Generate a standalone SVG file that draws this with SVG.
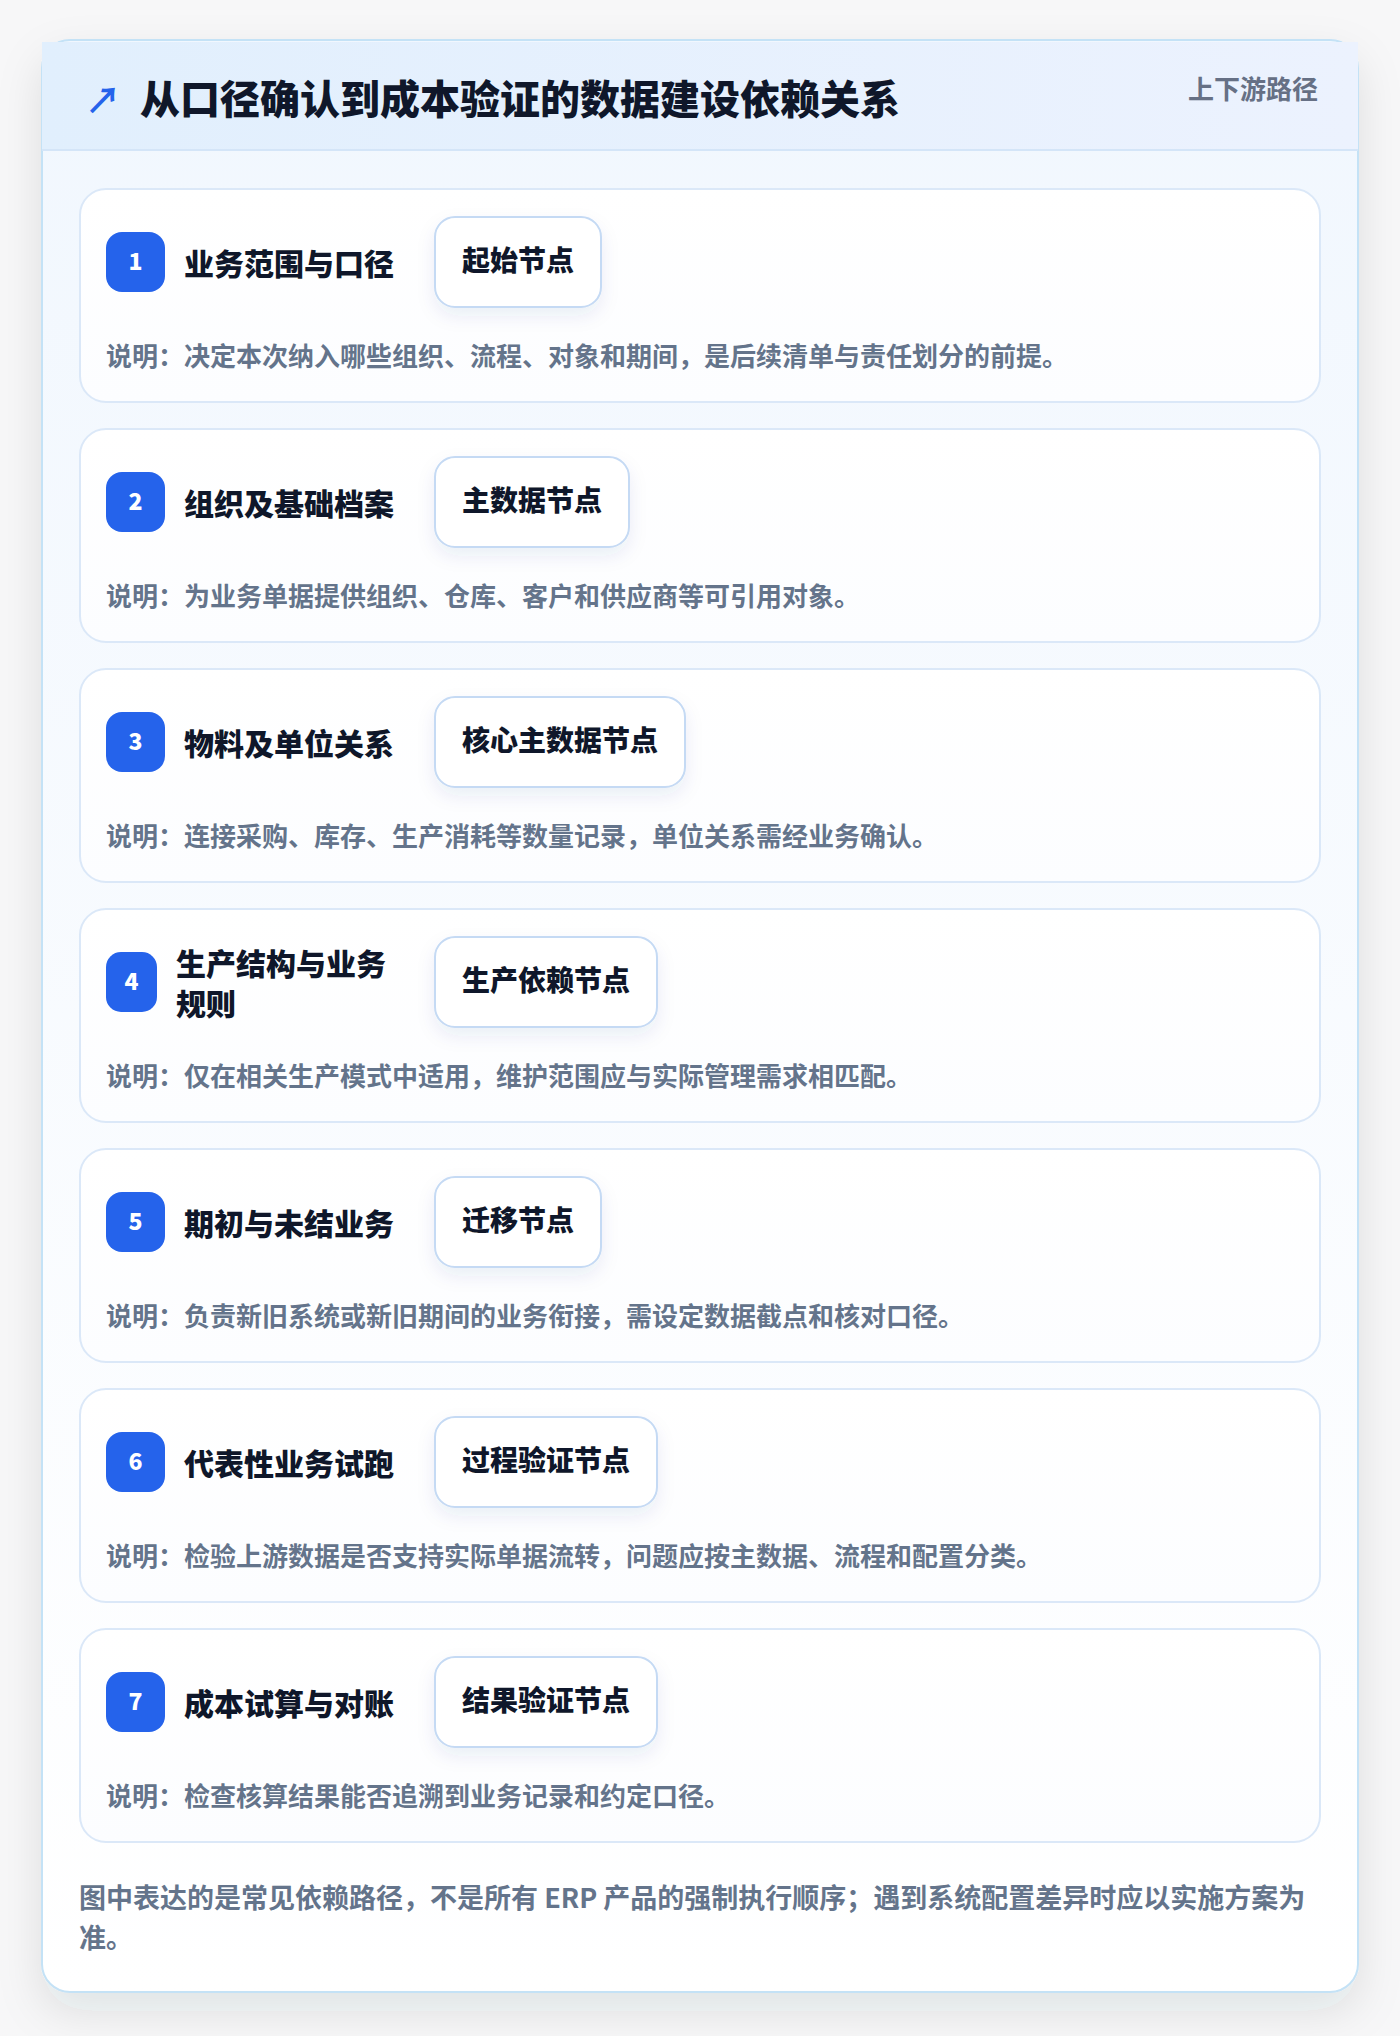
<svg xmlns="http://www.w3.org/2000/svg" width="1400" height="2036" viewBox="0 0 1400 2036">
<defs>
<linearGradient id="hdr" x1="0" y1="0" x2="1" y2="0"><stop offset="0" stop-color="#e1effd"/><stop offset="1" stop-color="#ecf2fe"/></linearGradient>
<linearGradient id="body" x1="0" y1="0" x2="0" y2="1"><stop offset="0" stop-color="#f1f7fe"/><stop offset="1" stop-color="#ffffff"/></linearGradient>
<linearGradient id="step" x1="0" y1="0" x2="0" y2="1"><stop offset="0" stop-color="#ffffff"/><stop offset="1" stop-color="#fcfdff"/></linearGradient>
<filter id="cardShadow" x="-10%" y="-10%" width="120%" height="120%"><feDropShadow dx="0" dy="18" stdDeviation="22" flood-color="#1e293b" flood-opacity="0.10"/></filter>
<filter id="tagShadow" x="-30%" y="-30%" width="160%" height="180%"><feDropShadow dx="0" dy="8" stdDeviation="9" flood-color="#1e3a8a" flood-opacity="0.08"/></filter>
</defs>
<style>
.t{font-family:"Noto Sans CJK SC","Noto Sans",sans-serif;font-weight:700}
.title{font-size:40px;fill:#0f172a;font-weight:900}
.meta{font-size:26px;fill:#667085}
.stepcard{fill:url(#step);stroke:#dbe8f8;stroke-width:2}
.badge{fill:#2563eb}
.num{font-size:23px;fill:#ffffff;font-weight:900}
.name{font-size:30px;fill:#0f172a;font-weight:900}
.tagbox{fill:#ffffff;stroke:#c5daf4;stroke-width:2}
.tag{font-size:28px;fill:#0f172a;font-weight:900}
.desc{font-size:26px;fill:#64748b}
.foot{font-size:27px;fill:#64748b}
</style>
<rect x="0" y="0" width="1400" height="2036" fill="#f7f7f8"/>
<g id="card">
<rect x="42" y="40" width="1316" height="1952" rx="28" fill="url(#body)" stroke="#c4e2f6" stroke-width="2" filter="url(#cardShadow)"/>
<rect x="42" y="42" width="1316" height="108" fill="url(#hdr)"/>
<rect x="42" y="149" width="1316" height="2" fill="#d4e5f8"/>
<text class="t" x="85" y="114" font-size="36" font-weight="400" fill="#2563eb">↗</text>
<text class="t title" x="140" y="114">从口径确认到成本验证的数据建设依赖关系</text>
<text class="t meta" x="1318" y="99" text-anchor="end">上下游路径</text>
</g>
<g id="connectors"></g>
<g id="step1">
<rect class="stepcard" x="80" y="189" width="1240" height="213" rx="26"/>
<rect class="badge" x="106" y="232" width="59" height="60" rx="16"/>
<text class="t num" x="135.5" y="270" text-anchor="middle">1</text>
<text class="t name" x="184" y="275">业务范围与口径</text>
<rect class="tagbox" x="435" y="217" width="166" height="90" rx="20" filter="url(#tagShadow)"/>
<text class="t tag" x="518" y="271" text-anchor="middle">起始节点</text>
<text class="t desc" x="106" y="366">说明：决定本次纳入哪些组织、流程、对象和期间，是后续清单与责任划分的前提。</text>
</g>
<g id="step2">
<rect class="stepcard" x="80" y="429" width="1240" height="213" rx="26"/>
<rect class="badge" x="106" y="472" width="59" height="60" rx="16"/>
<text class="t num" x="135.5" y="510" text-anchor="middle">2</text>
<text class="t name" x="184" y="515">组织及基础档案</text>
<rect class="tagbox" x="435" y="457" width="194" height="90" rx="20" filter="url(#tagShadow)"/>
<text class="t tag" x="532" y="511" text-anchor="middle">主数据节点</text>
<text class="t desc" x="106" y="606">说明：为业务单据提供组织、仓库、客户和供应商等可引用对象。</text>
</g>
<g id="step3">
<rect class="stepcard" x="80" y="669" width="1240" height="213" rx="26"/>
<rect class="badge" x="106" y="712" width="59" height="60" rx="16"/>
<text class="t num" x="135.5" y="750" text-anchor="middle">3</text>
<text class="t name" x="184" y="755">物料及单位关系</text>
<rect class="tagbox" x="435" y="697" width="250" height="90" rx="20" filter="url(#tagShadow)"/>
<text class="t tag" x="560" y="751" text-anchor="middle">核心主数据节点</text>
<text class="t desc" x="106" y="846">说明：连接采购、库存、生产消耗等数量记录，单位关系需经业务确认。</text>
</g>
<g id="step4">
<rect class="stepcard" x="80" y="909" width="1240" height="213" rx="26"/>
<rect class="badge" x="106" y="952" width="51" height="60" rx="15"/>
<text class="t num" x="131.5" y="990" text-anchor="middle">4</text>
<text class="t name" x="176" y="975">生产结构与业务</text>
<text class="t name" x="176" y="1015">规则</text>
<rect class="tagbox" x="435" y="937" width="222" height="90" rx="20" filter="url(#tagShadow)"/>
<text class="t tag" x="546" y="991" text-anchor="middle">生产依赖节点</text>
<text class="t desc" x="106" y="1086">说明：仅在相关生产模式中适用，维护范围应与实际管理需求相匹配。</text>
</g>
<g id="step5">
<rect class="stepcard" x="80" y="1149" width="1240" height="213" rx="26"/>
<rect class="badge" x="106" y="1192" width="59" height="60" rx="16"/>
<text class="t num" x="135.5" y="1230" text-anchor="middle">5</text>
<text class="t name" x="184" y="1235">期初与未结业务</text>
<rect class="tagbox" x="435" y="1177" width="166" height="90" rx="20" filter="url(#tagShadow)"/>
<text class="t tag" x="518" y="1231" text-anchor="middle">迁移节点</text>
<text class="t desc" x="106" y="1326">说明：负责新旧系统或新旧期间的业务衔接，需设定数据截点和核对口径。</text>
</g>
<g id="step6">
<rect class="stepcard" x="80" y="1389" width="1240" height="213" rx="26"/>
<rect class="badge" x="106" y="1432" width="59" height="60" rx="16"/>
<text class="t num" x="135.5" y="1470" text-anchor="middle">6</text>
<text class="t name" x="184" y="1475">代表性业务试跑</text>
<rect class="tagbox" x="435" y="1417" width="222" height="90" rx="20" filter="url(#tagShadow)"/>
<text class="t tag" x="546" y="1471" text-anchor="middle">过程验证节点</text>
<text class="t desc" x="106" y="1566">说明：检验上游数据是否支持实际单据流转，问题应按主数据、流程和配置分类。</text>
</g>
<g id="step7">
<rect class="stepcard" x="80" y="1629" width="1240" height="213" rx="26"/>
<rect class="badge" x="106" y="1672" width="59" height="60" rx="16"/>
<text class="t num" x="135.5" y="1710" text-anchor="middle">7</text>
<text class="t name" x="184" y="1715">成本试算与对账</text>
<rect class="tagbox" x="435" y="1657" width="222" height="90" rx="20" filter="url(#tagShadow)"/>
<text class="t tag" x="546" y="1711" text-anchor="middle">结果验证节点</text>
<text class="t desc" x="106" y="1806">说明：检查核算结果能否追溯到业务记录和约定口径。</text>
</g>
<g id="footnote">
<text class="t foot" x="79" y="1908">图中表达的是常见依赖路径，不是所有 ERP 产品的强制执行顺序；遇到系统配置差异时应以实施方案为</text>
<text class="t foot" x="79" y="1948">准。</text>
</g>
</svg>
